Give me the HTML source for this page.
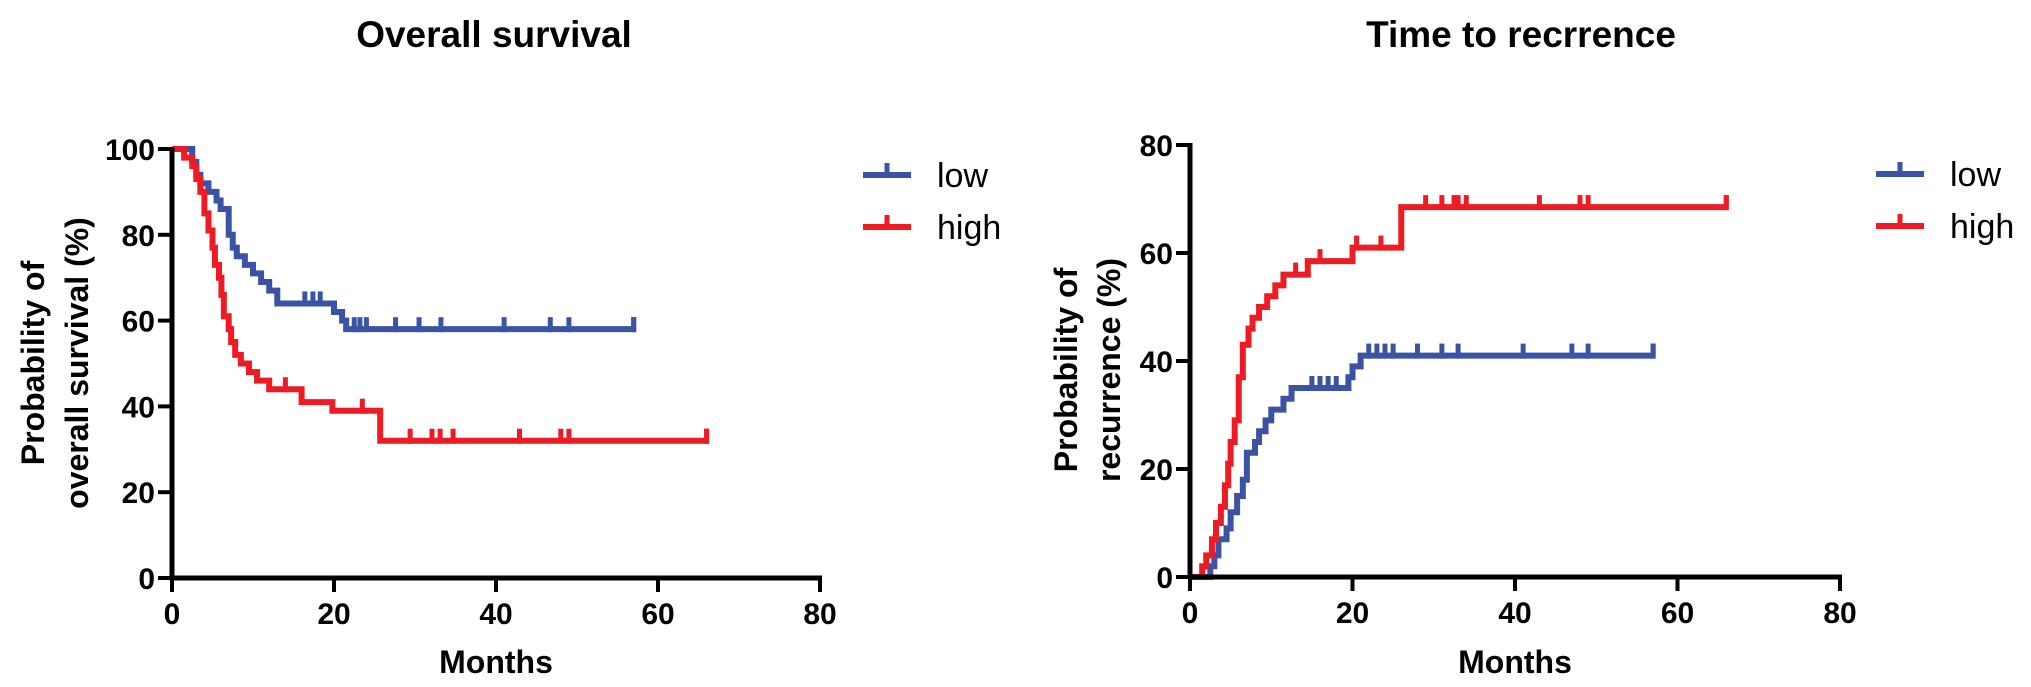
<!DOCTYPE html>
<html><head><meta charset="utf-8"><style>
html,body{margin:0;padding:0;background:#fff;}
svg{display:block;font-family:"Liberation Sans",Arial,sans-serif;}
</style></head><body>
<svg id="chart" width="2031" height="687" viewBox="0 0 2031 687" xmlns="http://www.w3.org/2000/svg">
<text x="494" y="47" text-anchor="middle" font-size="37" font-weight="bold">Overall survival</text>
<text x="1521" y="47" text-anchor="middle" font-size="37" font-weight="bold">Time to recrrence</text>
<text x="496" y="673" text-anchor="middle" font-size="32" font-weight="bold">Months</text>
<text x="1515" y="673" text-anchor="middle" font-size="32" font-weight="bold">Months</text>
<text transform="translate(44,363) rotate(-90)" text-anchor="middle" font-size="32" font-weight="bold">Probability of</text>
<text transform="translate(88,363) rotate(-90)" text-anchor="middle" font-size="32" font-weight="bold">overall survival (%)</text>
<text transform="translate(1077,370) rotate(-90)" text-anchor="middle" font-size="32" font-weight="bold">Probability of</text>
<text transform="translate(1120,370) rotate(-90)" text-anchor="middle" font-size="32" font-weight="bold">recurrence (%)</text>
<g id="plots"></g>
</svg>
<script>
// ---- data ----
const xTicks = [0, 20, 40, 60, 80];
const osYTicks = [0, 20, 40, 60, 80, 100];
const ttrYTicks = [0, 20, 40, 60, 80];
const legendLabels = ["low", "high"];

const osLowT = [0, 2.5, 3, 3.5, 4.5, 5.5, 6, 7, 7.5, 8, 9, 10, 11, 12, 13, 14, 20, 21, 21.5];
const osLowV = [100, 97, 94, 92, 90, 88, 86, 80, 77, 75, 73, 71, 69, 67, 64, 64, 62, 60, 58];
const osLowCens = [16.4, 17.4, 18.3, 22.5, 23.2, 24, 27.6, 30.5, 33.2, 41, 46.7, 49, 57];
const osLowEnd = 57;

const osHighT = [0, 1.5, 2.5, 3, 3.5, 4, 4.5, 5, 5.3, 5.8, 6.1, 6.4, 7, 7.3, 7.8, 8.5, 9.5, 10.5, 12, 16, 19.8, 25.7];
const osHighV = [100, 98, 96, 93, 90, 85, 81, 77, 73, 70, 66, 61, 58, 55, 52, 50, 48, 46, 44, 41, 39, 32];
const osHighCens = [14, 23.5, 29.4, 32.1, 33.1, 34.7, 42.9, 48, 49, 66];
const osHighEnd = 66;

const ttrLowT = [0, 2, 2.5, 3, 3.5, 4.5, 5, 5.8, 6.5, 7, 8, 8.5, 9.3, 10, 11.5, 12.5, 19.5, 20, 21];
const ttrLowV = [0, 0, 2, 4, 7, 9, 12, 15, 18, 23, 25, 27, 29, 31, 33, 35, 37, 39, 41];
const ttrLowCens = [15, 16, 17, 18, 22, 23, 24, 25, 28, 31, 33, 41, 47, 49, 57];
const ttrLowEnd = 57;

const ttrHighT = [0, 1.5, 2, 2.7, 3.2, 3.8, 4.3, 4.7, 5, 5.5, 6, 6.5, 7.2, 7.7, 8.5, 9.5, 10.5, 11.5, 14.5, 20, 26];
const ttrHighV = [0, 2, 4, 7, 10, 13, 17, 21, 25, 29, 37, 43, 46, 48, 50, 52, 54, 56, 58.5, 61, 68.5];
const ttrHighCens = [13, 16, 20.5, 23.5, 29, 31, 32.5, 33, 34, 43, 48, 49, 66];
const ttrHighEnd = 66;

const BLUE = "#3a53a4", RED = "#ed1c24";
const NS = "http://www.w3.org/2000/svg";
const root = document.getElementById("plots");

function mk(tag, attrs, parent) {
  const e = document.createElementNS(NS, tag);
  for (const k in attrs) e.setAttribute(k, attrs[k]);
  (parent || root).appendChild(e);
  return e;
}

function makeAxes(x0, x1, y0, yTop, yMax) {
  return {
    x: m => x0 + (x1 - x0) * m / 80,
    y: v => y0 - (y0 - yTop) * v / yMax,
    x0, x1, y0, yTop
  };
}

function stepPath(ax, T, V, end) {
  let d = "M" + ax.x(T[0]) + "," + ax.y(V[0]);
  for (let i = 1; i < T.length; i++) {
    d += " H" + ax.x(T[i]) + " V" + ax.y(V[i]);
  }
  d += " H" + ax.x(end);
  return d;
}

function valueAt(T, V, t) {
  let v = V[0];
  for (let i = 0; i < T.length; i++) if (T[i] <= t) v = V[i];
  return v;
}

function drawChart(prefix, ax, yTicks, yMax, series, legX, legY) {
  const g = mk("g", {});
  
  
  series.forEach(s => {
    const p = mk("path", { d: stepPath(ax, s.T, s.V, s.end), fill: "none", stroke: s.color, "stroke-width": 6, "stroke-linejoin": "miter" }, g);
    
    
    s.cens.concat([s.end]).forEach(c => {
      const yy = ax.y(valueAt(s.T, s.V, c));
      const t = mk("line", { x1: ax.x(c), x2: ax.x(c), y1: yy - 12, y2: yy + 3, stroke: s.color, "stroke-width": 5 }, g);
      
      
    });
  });
  const ya = mk("line", { x1: ax.x0, x2: ax.x0, y1: ax.yTop - 2, y2: ax.y0 + 2, stroke: "#000", "stroke-width": 5 }, g);
  
  
  const xa = mk("line", { x1: ax.x0 - 2, x2: ax.x1 + 2, y1: ax.y0, y2: ax.y0, stroke: "#000", "stroke-width": 5 }, g);
  
  
  yTicks.forEach(v => {
    const yy = ax.y(v);
    const t = mk("line", { x1: ax.x0 - 14, x2: ax.x0, y1: yy, y2: yy, stroke: "#000", "stroke-width": 4 }, g);
    
    
    const l = mk("text", { x: ax.x0 - 17, y: yy + 11, "text-anchor": "end", "font-size": 30, "font-weight": "bold" }, g);
    l.textContent = v;
    
    
  });
  xTicks.forEach(m => {
    const xx = ax.x(m);
    const t = mk("line", { x1: xx, x2: xx, y1: ax.y0, y2: ax.y0 + 14, stroke: "#000", "stroke-width": 4 }, g);
    
    
    const l = mk("text", { x: xx, y: ax.y0 + 46, "text-anchor": "middle", "font-size": 30, "font-weight": "bold" }, g);
    l.textContent = m;
    
    
  });
  series.forEach((s, i) => {
    const yy = legY + i * 52;
    const lg = mk("g", {}, g);
    
    
    mk("line", { x1: legX, x2: legX + 48, y1: yy, y2: yy, stroke: s.color, "stroke-width": 6 }, lg);
    mk("line", { x1: legX + 24, x2: legX + 24, y1: yy - 12, y2: yy, stroke: s.color, "stroke-width": 5 }, lg);
    const tx = mk("text", { x: legX + 74, y: yy + 12, "font-size": 34 }, lg);
    tx.textContent = legendLabels[i];
  });
}

const osAx = makeAxes(172, 820, 578, 149, 100);
drawChart("os", osAx, osYTicks, 100, [
  { name: "low", T: osLowT, V: osLowV, cens: osLowCens, end: osLowEnd, color: BLUE },
  { name: "high", T: osHighT, V: osHighV, cens: osHighCens, end: osHighEnd, color: RED }
], 863, 175);

const ttrAx = makeAxes(1190, 1840, 577, 145, 80);
drawChart("ttr", ttrAx, ttrYTicks, 80, [
  { name: "low", T: ttrLowT, V: ttrLowV, cens: ttrLowCens, end: ttrLowEnd, color: BLUE },
  { name: "high", T: ttrHighT, V: ttrHighV, cens: ttrHighCens, end: ttrHighEnd, color: RED }
], 1876, 174);
</script>
</body></html>
